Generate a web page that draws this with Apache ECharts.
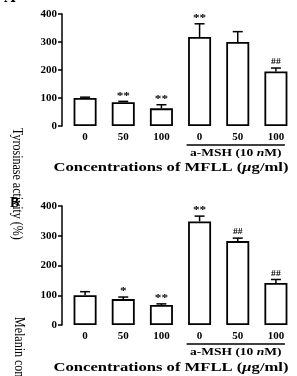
<!DOCTYPE html>
<html>
<head>
<meta charset="utf-8">
<script src="https://cdn.jsdelivr.net/npm/echarts@6/dist/echarts.min.js"></script>
<style>
  html, body { margin: 0; padding: 0; background: #fff; }
  #container { width: 297px; height: 376px; }
</style>
</head>
<body>
<div id="container"></div>
<script>
var cats = ['0', '50', '100', '0', '50', '100'];
var yTicks = [0, 100, 200, 300, 400];

// panel A: tyrosinase activity
var meanA = [100, 85, 63, 318, 300, 195];
var errA = [3, 3, 13, 47, 37, 12];
var sigA = ['', '**', '**', '**', '', '##'];

// panel B: melanin content
var meanB = [100, 87, 67, 348, 282, 141];
var errB = [12, 7, 4, 18, 10, 12];
var sigB = ['', '*', '**', '**', '##', '##'];

var serif = 'Liberation Serif';
var chart = echarts.init(document.getElementById('container'));

function errData(mean, err, sig) {
    return mean.map(function (m, i) { return [i, m, err[i]]; });
}

function renderErr(params, api) {
    var i = api.value(0), m = api.value(1), e = api.value(2);
    var s = (params.seriesIndex === 2 ? sigA : sigB)[params.dataIndex];
    var p0 = api.coord([i, m]);
    var p1 = api.coord([i, m + e]);
    var hash = s.indexOf('#') >= 0;
    return {
        type: 'group',
        children: [
            { type: 'line', shape: { x1: p0[0], y1: p0[1], x2: p1[0], y2: p1[1] }, style: { stroke: '#000', lineWidth: 1.5 } },
            { type: 'line', shape: { x1: p1[0] - 5, y1: p1[1], x2: p1[0] + 5, y2: p1[1] }, style: { stroke: '#000', lineWidth: 1.5 } },
            { type: 'text', x: p1[0], y: p1[1] - (hash ? 2 : 0), scaleX: 1.2, style: { text: s, fill: '#000', font: 'bold ' + (hash ? 8 : 11) + 'px "' + serif + '"', align: 'center', verticalAlign: 'bottom' } }
        ]
    };
}

function renderBracket(params, api) {
    var a = api.coord([api.value(0), 0]);
    var b = api.coord([api.value(1), 0]);
    var y = a[1] + 19;
    return {
        type: 'group',
        children: [
            { type: 'line', shape: { x1: a[0] - 13, y1: y, x2: b[0] + 9, y2: y }, style: { stroke: '#000', lineWidth: 1.5 } },
            { type: 'text', x: (a[0] + b[0]) / 2 - 2, y: y + 8, scaleX: 1.35, style: {
                text: '{n|a-MSH (10 }{i|n}{n|M)}', align: 'center', verticalAlign: 'middle',
                rich: {
                    n: { font: 'bold 10px "' + serif + '"', fill: '#000' },
                    i: { font: 'bold italic 10px "' + serif + '"', fill: '#000' }
                }
            } }
        ]
    };
}

function xAx(g) {
    return {
        type: 'category', gridIndex: g, data: cats,
        axisLine: { show: false }, axisTick: { show: false },
        axisLabel: { margin: 6, color: '#000', fontFamily: serif, fontWeight: 'bold', fontSize: 11 }
    };
}
function yAx(g) {
    return {
        type: 'value', gridIndex: g, min: 0, max: 400, interval: 100, offset: 4,
        axisLine: { show: true, lineStyle: { color: '#000', width: 1.5 } },
        axisTick: { show: true, length: 4, lineStyle: { color: '#000', width: 1.5 } },
        splitLine: { show: false },
        axisLabel: { margin: 5, color: '#000', fontFamily: serif, fontWeight: 'bold', fontSize: 11 }
    };
}

var titleRich = {
    n: { font: 'bold 12.5px "' + serif + '"', fill: '#000' },
    i: { font: 'bold italic 12.5px "' + serif + '"', fill: '#000' }
};

var option = {
    animation: false,
    grid: [
        { left: 66, top: 14, width: 229, height: 112 },
        { left: 66, top: 206, width: 229, height: 119 }
    ],
    xAxis: [xAx(0), xAx(1)],
    yAxis: [yAx(0), yAx(1)],
    series: [
        { type: 'bar', xAxisIndex: 0, yAxisIndex: 0, data: meanA, barWidth: 23,
          itemStyle: { color: '#fff', borderColor: '#000', borderWidth: 1.8 } },
        { type: 'bar', xAxisIndex: 1, yAxisIndex: 1, data: meanB, barWidth: 23,
          itemStyle: { color: '#fff', borderColor: '#000', borderWidth: 1.8 } },
        { type: 'custom', xAxisIndex: 0, yAxisIndex: 0, data: errData(meanA, errA, sigA), renderItem: renderErr, z: 1 },
        { type: 'custom', xAxisIndex: 1, yAxisIndex: 1, data: errData(meanB, errB, sigB), renderItem: renderErr, z: 1 },
        { type: 'custom', xAxisIndex: 0, yAxisIndex: 0, data: [[3, 5]], renderItem: renderBracket, clip: false },
        { type: 'custom', xAxisIndex: 1, yAxisIndex: 1, data: [[3, 5]], renderItem: renderBracket, clip: false }
    ],
    graphic: [
        { type: 'text', left: 4, top: -10, style: { text: 'A', font: 'bold 16px "' + serif + '"', fill: '#000' } },
        { type: 'text', left: 10, top: 196, style: { text: 'B', font: 'bold 14px "' + serif + '"', fill: '#000' } },
        { type: 'text', x: 171, y: 168, scaleX: 1.33, style: { text: '{n|Concentrations of MFLL (}{i|μ}{n|g/ml)}', align: 'center', verticalAlign: 'middle', rich: titleRich } },
        { type: 'text', x: 171, y: 368, scaleX: 1.33, style: { text: '{n|Concentrations of MFLL (}{i|μ}{n|g/ml)}', align: 'center', verticalAlign: 'middle', rich: titleRich } },
        { type: 'text', x: 17, y: 128, rotation: -Math.PI / 2, scaleY: 1.2, style: { text: 'Tyrosinase activity (%)', font: '12px "' + serif + '"', fill: '#000', align: 'left', verticalAlign: 'middle' } },
        { type: 'text', x: 19, y: 317, rotation: -Math.PI / 2, scaleY: 1.2, style: { text: 'Melanin content (%)', font: '12px "' + serif + '"', fill: '#000', align: 'left', verticalAlign: 'middle' } }
    ]
};
chart.setOption(option);
</script>
</body>
</html>
